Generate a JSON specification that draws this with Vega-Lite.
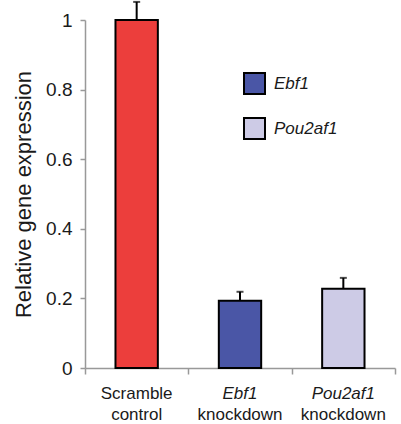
{
  "$schema": "https://vega.github.io/schema/vega-lite/v6.json",
  "autosize": "none",
  "width": 310,
  "height": 348,
  "padding": {"left": 85, "top": 20, "right": 6, "bottom": 56},
  "config": {
    "view": {"stroke": null},
    "font": "Liberation Sans",
    "axis": {"labelFont": "Liberation Sans", "titleFont": "Liberation Sans", "labelColor": "#1a1a1a", "titleColor": "#1a1a1a", "grid": false, "domainColor": "#999999", "tickColor": "#999999", "domainWidth": 1.5, "tickWidth": 1.5}
  },
  "data": {
    "values": [
      {"cat": "Scramble control", "group": "Scramble", "value": 1.0, "upper": 1.052},
      {"cat": "Ebf1 knockdown", "group": "Ebf1", "value": 0.193, "upper": 0.219},
      {"cat": "Pou2af1 knockdown", "group": "Pou2af1", "value": 0.228, "upper": 0.259}
    ]
  },
  "resolve": {"axis": {"x": "independent"}},
  "layer": [
    {
      "mark": {"type": "bar", "stroke": "black", "strokeWidth": 2, "width": {"band": 0.41}},
      "encoding": {
        "x": {
          "field": "cat", "type": "nominal", "sort": null,
          "scale": {"paddingInner": 0, "paddingOuter": 0},
          "axis": {
            "orient": "bottom", "title": null, "labelAngle": 0, "domain": false, "ticks": false,
            "labelFontSize": 17, "labelPadding": 17,
            "labelExpr": "datum.value == 'Scramble control' ? 'Scramble' : (datum.value == 'Ebf1 knockdown' ? 'Ebf1' : 'Pou2af1')",
            "labelFontStyle": {"condition": {"test": "datum.value != 'Scramble control'", "value": "italic"}, "value": "normal"}
          }
        },
        "y": {
          "field": "value", "type": "quantitative",
          "scale": {"domain": [0, 1]},
          "axis": {
            "title": "Relative gene expression", "titleFontSize": 22, "titleFontWeight": "normal",
            "titleX": -62, "titleBaseline": "middle",
            "values": [0, 0.2, 0.4, 0.6, 0.8, 1], "format": ".1~f",
            "labelFontSize": 19, "tickSize": 5, "labelPadding": 8
          }
        },
        "color": {
          "field": "group", "type": "nominal",
          "scale": {"domain": ["Scramble", "Ebf1", "Pou2af1"], "range": ["#EC3E3C", "#4A56A6", "#CDCBE6"]},
          "legend": {
            "values": ["Ebf1", "Pou2af1"], "title": null, "orient": "none", "legendX": 158, "legendY": 52,
            "symbolType": "square", "symbolSize": 441, "symbolStrokeColor": "black", "symbolStrokeWidth": 2,
            "symbolOpacity": 1, "labelFontSize": 17, "labelFontStyle": "italic", "labelFont": "Liberation Sans",
            "labelColor": "#1a1a1a", "labelOffset": 8, "rowPadding": 16, "padding": 0
          }
        }
      }
    },
    {
      "mark": {"type": "rule", "color": "black", "strokeWidth": 2},
      "encoding": {
        "x": {
          "field": "cat", "type": "nominal", "sort": null,
          "axis": {
            "orient": "bottom", "title": null, "labelAngle": 0, "domain": false, "ticks": false,
            "labelFontSize": 17, "labelPadding": 38,
            "labelExpr": "datum.value == 'Scramble control' ? 'control' : 'knockdown'"
          }
        },
        "y": {"field": "value", "type": "quantitative"},
        "y2": {"field": "upper"}
      }
    },
    {
      "mark": {"type": "tick", "orient": "horizontal", "color": "black", "thickness": 2, "size": 7},
      "encoding": {
        "x": {
          "field": "cat", "type": "nominal", "sort": null,
          "axis": {"orient": "bottom", "title": null, "labels": false, "tickBand": "extent", "tickSize": 6}
        },
        "y": {"field": "upper", "type": "quantitative"}
      }
    }
  ]
}
